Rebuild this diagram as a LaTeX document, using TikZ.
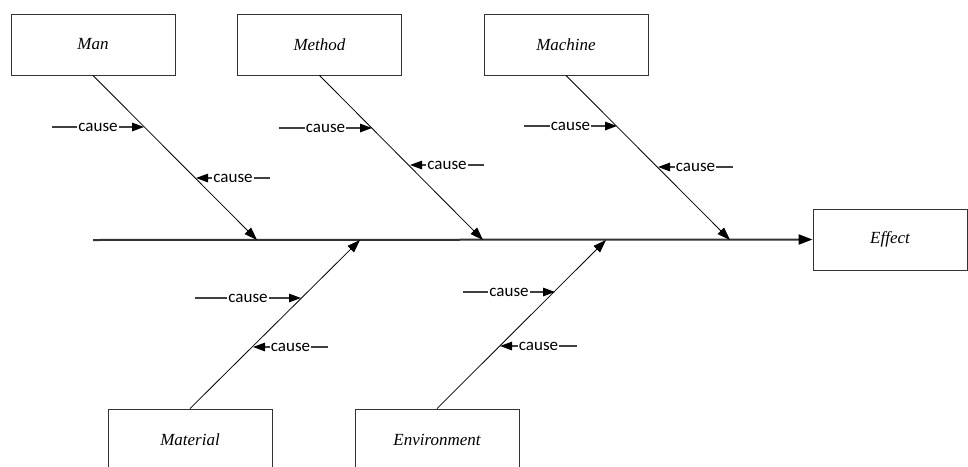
\documentclass[tikz,border=0pt]{standalone}
\usepackage{fontspec}
\setmainfont{Liberation Serif}
\newfontfamily\causefont{Carlito}
\usetikzlibrary{arrows.meta}
\begin{document}
\begin{tikzpicture}[x=1pt,y=-1pt,
  catbox/.style={draw=black!80,line width=0.9pt,minimum width=164pt,minimum height=61pt,inner sep=0pt,font=\itshape\fontsize{17}{20}\selectfont},
  bone/.style={draw=black,line width=0.8pt,-{Triangle[length=13pt,width=9pt]}},
  spine/.style={draw=black!80,line width=2pt,-{Triangle[length=14pt,width=10pt,color=black]}},
  causearrow/.style={draw=black!75,line width=1.3pt,-{Triangle[length=12pt,width=8.5pt,color=black]}},
  causelabel/.style={fill=white,inner sep=1.2pt,font=\causefont\fontsize{17}{20}\selectfont,text=black}]
\clip (0,0) rectangle (968,466);
\fill[white] (0,0) rectangle (968,466);
% category boxes
\node[catbox] (man) at (93,44.5) {Man};
\node[catbox] (method) at (319.5,44.5) {Method};
\node[catbox] (machine) at (566,44.5) {Machine};
\node[catbox] (material) at (190,439.5) {Material};
\node[catbox] (env) at (437,439.5) {Environment};
\node[catbox,minimum width=154pt] (effect) at (890,239.5) {Effect};
% spine
\coordinate (tail) at (93,240);
\draw[spine] (tail) -- (effect.west);
% bone ends on spine
\coordinate (manE) at (257,240);
\coordinate (methodE) at (483,240);
\coordinate (machineE) at (730,240);
\coordinate (materialE) at (360,240);
\coordinate (envE) at (606,240);
\draw[bone] (man.south) -- (manE);
\draw[bone] (method.south) -- (methodE);
\draw[bone] (machine.south) -- (machineE);
\draw[bone] (material.north) -- (materialE);
\draw[bone] (env.north) -- (envE);
% cause arrows: start and tip coordinates
\coordinate (a1s) at (52,127);   \coordinate (a1t) at (144,127);
\coordinate (a2s) at (270,178);  \coordinate (a2t) at (196,178);
\coordinate (b1s) at (279,128);  \coordinate (b1t) at (372,128);
\coordinate (b2s) at (484,165);  \coordinate (b2t) at (410,165);
\coordinate (c1s) at (524,126);  \coordinate (c1t) at (617,126);
\coordinate (c2s) at (733,167);  \coordinate (c2t) at (658,167);
\coordinate (d1s) at (195,298);  \coordinate (d1t) at (301,298);
\coordinate (d2s) at (328,347);  \coordinate (d2t) at (253,347);
\coordinate (e1s) at (463,292);  \coordinate (e1t) at (555,292);
\coordinate (e2s) at (577,346);  \coordinate (e2t) at (500,346);
\foreach \p in {a1,a2,b1,b2,c1,c2,d1,d2,e1,e2}{
  \draw[causearrow] (\p s) -- node[causelabel]{cause} (\p t);
}
\end{tikzpicture}
\end{document}
